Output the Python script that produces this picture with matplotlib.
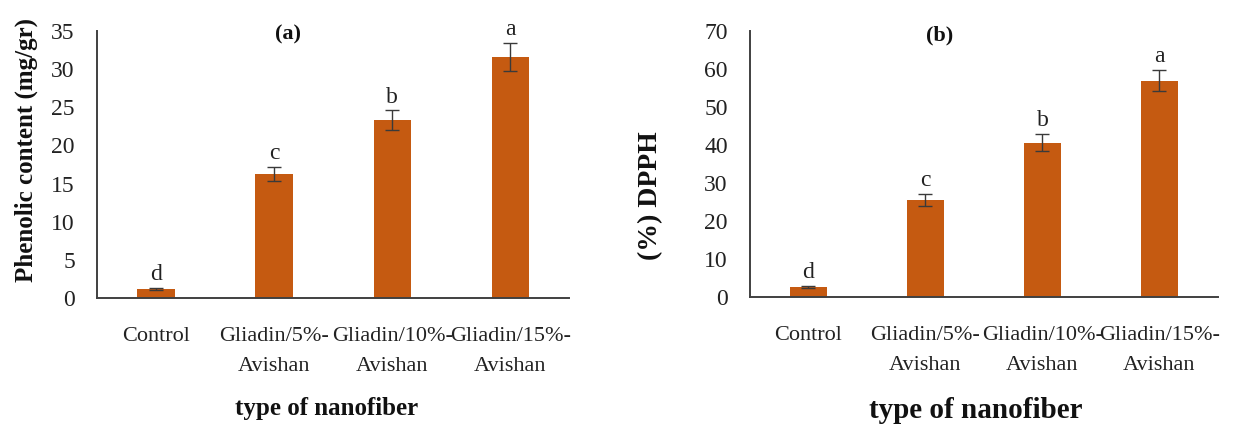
import numpy as np
import matplotlib
matplotlib.use('Agg')
import matplotlib.pyplot as plt

plt.rcParams.update({'font.family': ['Liberation Serif', 'DejaVu Serif']})

BAR = '#C55A11'
AXC = '#404040'

groups = ['Control', 'Gliadin/5%-\nAvishan', 'Gliadin/10%-\nAvishan', 'Gliadin/15%-\nAvishan']
phenolic = [1.2, 16.25, 23.3, 31.6]
phenolic_err = [0.15, 0.9, 1.3, 1.8]
dpph = [2.6, 25.5, 40.6, 56.9]
dpph_err = [0.3, 1.6, 2.3, 2.8]
letters = ['d', 'c', 'b', 'a']

fig = plt.figure(figsize=(12.38, 4.26), dpi=100)
ax_a = fig.add_axes([0.0784, 0.3005, 0.3813, 0.6268])
ax_b = fig.add_axes([0.6058, 0.3028, 0.3780, 0.6244])


def panel(ax, vals, errs, ymax, step, title, ylabel, ylab_xy, ylab_fs, xlab_xy, xlab_fs):
    x = np.arange(len(groups))
    ax.bar(x, vals, 0.315, color=BAR, zorder=2)
    ax.errorbar(x, vals, yerr=errs, fmt='none', ecolor='#3a3a3a', elinewidth=1.0,
                capsize=5, capthick=1.0, zorder=3)
    for xi, v, e, lt in zip(x, vals, errs, letters):
        ax.annotate(lt, (xi, v + e), xytext=(0, 2), textcoords='offset points',
                    ha='center', va='bottom', fontsize=17, color='#222222')
    ax.set_xlim(-0.5, len(groups) - 0.5)
    ax.set_ylim(0, ymax)
    ax.set_yticks(np.arange(0, ymax + 1, step))
    ax.set_xticks(x)
    ax.set_xticklabels(groups, fontsize=16, va='top', linespacing=1.75, color='#222222')
    ax.tick_params(axis='y', length=0, pad=16, labelsize=17, labelcolor='#222222')
    ax.tick_params(axis='x', length=0, pad=21)
    for s in ('top', 'right'):
        ax.spines[s].set_visible(False)
    for s in ('left', 'bottom'):
        ax.spines[s].set_color(AXC)
        ax.spines[s].set_linewidth(1.4)
    ax.text(0.405, 0.985, title, transform=ax.transAxes, ha='center', va='center',
            fontsize=16, fontweight='bold', color='#111111')
    ax.set_ylabel(ylabel, fontsize=ylab_fs, fontweight='bold', color='#111111')
    ax.yaxis.set_label_coords(*ylab_xy)
    ax.set_xlabel('type of nanofiber', fontsize=xlab_fs, fontweight='bold', color='#111111')
    ax.xaxis.set_label_coords(*xlab_xy)


panel(ax_a, phenolic, phenolic_err, 35, 5, '(a)', 'Phenolic content (mg/gr)',
      (-0.125, 0.554), 18, (0.487, -0.37), 18)
panel(ax_b, dpph, dpph_err, 70, 10, '(b)', '(%) DPPH',
      (-0.186, 0.38), 20, (0.483, -0.375), 21)

fig.savefig('out.png', dpi=100)
